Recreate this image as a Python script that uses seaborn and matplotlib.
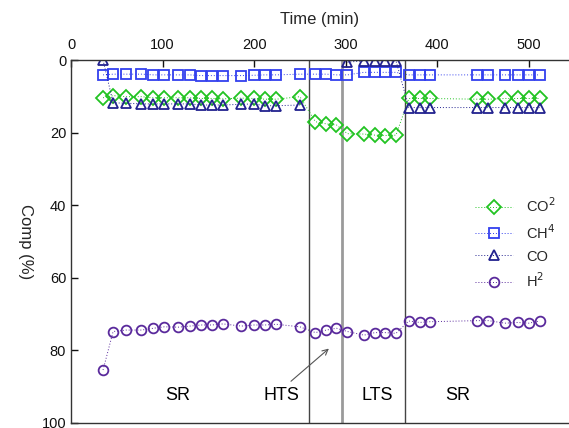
import numpy as np
import pandas as pd
import matplotlib
matplotlib.use("Agg")
import matplotlib.pyplot as plt
import seaborn as sns

# ---- data ----
time = [35, 46, 60, 77, 90, 102, 117, 130, 142, 154, 166, 186, 200, 212, 224, 250,
        267, 279, 290, 302, 320, 332, 343, 355, 369, 381, 392, 444, 456, 474, 488, 500, 512]
co2 = [10.4, 9.8, 10.1, 10.1, 10.4, 10.4, 10.4, 10.4, 10.6, 10.6, 10.7, 10.5, 10.6, 10.8, 10.8, 10.1,
       17.0, 17.6, 17.9, 20.3, 20.4, 20.7, 20.8, 20.7, 10.6, 10.6, 10.6, 10.8, 10.8, 10.6, 10.6, 10.6, 10.6]
ch4 = [4.1, 3.9, 3.9, 3.9, 4.1, 4.1, 4.1, 4.1, 4.3, 4.3, 4.3, 4.3, 4.2, 4.1, 4.1, 3.9,
       3.9, 3.9, 4.1, 4.1, 3.4, 3.4, 3.4, 3.4, 4.1, 4.1, 4.1, 4.1, 4.1, 4.1, 4.1, 4.1, 4.1]
co = [0.0, 11.8, 11.9, 12.1, 12.1, 12.1, 12.1, 12.1, 12.4, 12.4, 12.4, 12.2, 12.1, 12.6, 12.6, 12.4,
      np.nan, np.nan, np.nan, 0.6, 0.2, 0.2, 0.2, 0.2, 13.1, 13.1, 13.1, 13.1, 13.1, 13.1, 13.1, 13.1, 13.1]
h2 = [85.4, 74.8, 74.4, 74.4, 73.9, 73.5, 73.6, 73.3, 73.0, 73.0, 72.7, 73.3, 73.0, 73.0, 72.8, 73.5,
      75.1, 74.4, 73.9, 74.8, 75.8, 75.1, 75.1, 75.3, 71.9, 72.3, 72.1, 71.8, 71.8, 72.5, 72.3, 72.5, 71.9]

series_labels = ["CO$^2$", "CH$^4$", "CO", "H$^2$"]
region_labels = ["SR", "HTS", "LTS", "SR"]
region_pos = [117, 230, 335, 422]
boundaries = [260, 296, 365]
xticks = [0, 100, 200, 300, 400, 500]
yticks = [0, 20, 40, 60, 80, 100]

sns.set_style("ticks")
plt.rcParams["font.family"] = ["Liberation Sans", "DejaVu Sans"]

fig = plt.figure(figsize=(5.69, 4.28), dpi=100)
ax = fig.add_axes([71 / 569, 1 - 423 / 428, (569 - 71) / 569, (423 - 60) / 428])

df = pd.DataFrame({"time": time, "co2": co2, "ch4": ch4, "co": co, "h2": h2})

styles = [
    ("co2", "D", "#22c322", 6.8),
    ("ch4", "s", "#3340ee", 7.0),
    ("co", "^", "#22228f", 7.0),
    ("h2", "o", "#5a2a9c", 7.0),
]

for (col, mk, c, ms), lab in zip(styles, series_labels):
    vals = df[col].to_numpy()
    valid = ~np.isnan(vals)
    segs = []
    start = None
    for i, v in enumerate(valid):
        if v and start is None:
            start = i
        if (not v or i == len(valid) - 1) and start is not None:
            end = i + 1 if v else i
            segs.append((start, end))
            start = None
    for k, (s, e) in enumerate(segs):
        sub = df.iloc[s:e]
        sns.lineplot(x=sub["time"], y=sub[col], ax=ax, sort=False,
                     marker=mk, markersize=ms, markerfacecolor="none",
                     markeredgecolor=c, markeredgewidth=1.3, color=c,
                     linestyle=(0, (1, 2)), linewidth=0.7, alpha=1.0,
                     label=lab if k == 0 else None)
    # lighten connecting lines only
for line in ax.get_lines():
    c = matplotlib.colors.to_rgba(line.get_markeredgecolor())
    line.set_color((c[0], c[1], c[2], 0.55))
    line.set_markeredgecolor(c)

for b, c, lw in zip(boundaries, ["#444444", "#9a9a9a", "#444444"], [1.0, 2.0, 1.0]):
    ax.axvline(b, color=c, lw=lw, zorder=1)

for t, lab in zip(region_pos, region_labels):
    ax.text(t, 92.3, lab, ha="center", va="center", fontsize=13, color="black")

ax.annotate("", xy=(284, 79), xytext=(238, 89),
            arrowprops=dict(arrowstyle="->", color="#555555", lw=0.8))

ax.set_xlim(0, 544)
ax.set_ylim(100, 0)
ax.xaxis.tick_top()
ax.xaxis.set_label_position("top")
ax.set_xticks(xticks)
ax.set_yticks(yticks)
ax.tick_params(direction="in", length=5, width=1, labelsize=10.5, colors="#111111")
ax.tick_params(axis="x", pad=6)
ax.set_xlabel("Time (min)", fontsize=12, labelpad=10)
ax.set_ylabel("Comp (%)", fontsize=12, rotation=270, va="center")
ax.yaxis.set_label_coords(-0.092, 0.5)
for side in ["top", "left", "bottom"]:
    ax.spines[side].set_color("#333333")
    ax.spines[side].set_linewidth(1.0)
ax.spines["right"].set_visible(False)

leg = ax.legend(loc="upper left", bbox_to_anchor=(462 / 569, 1 - 183 / 428),
                bbox_transform=fig.transFigure, frameon=False, fontsize=10.5,
                handlelength=2.6, labelspacing=0.55, handletextpad=0.9)

fig.savefig("out.png", dpi=100)
